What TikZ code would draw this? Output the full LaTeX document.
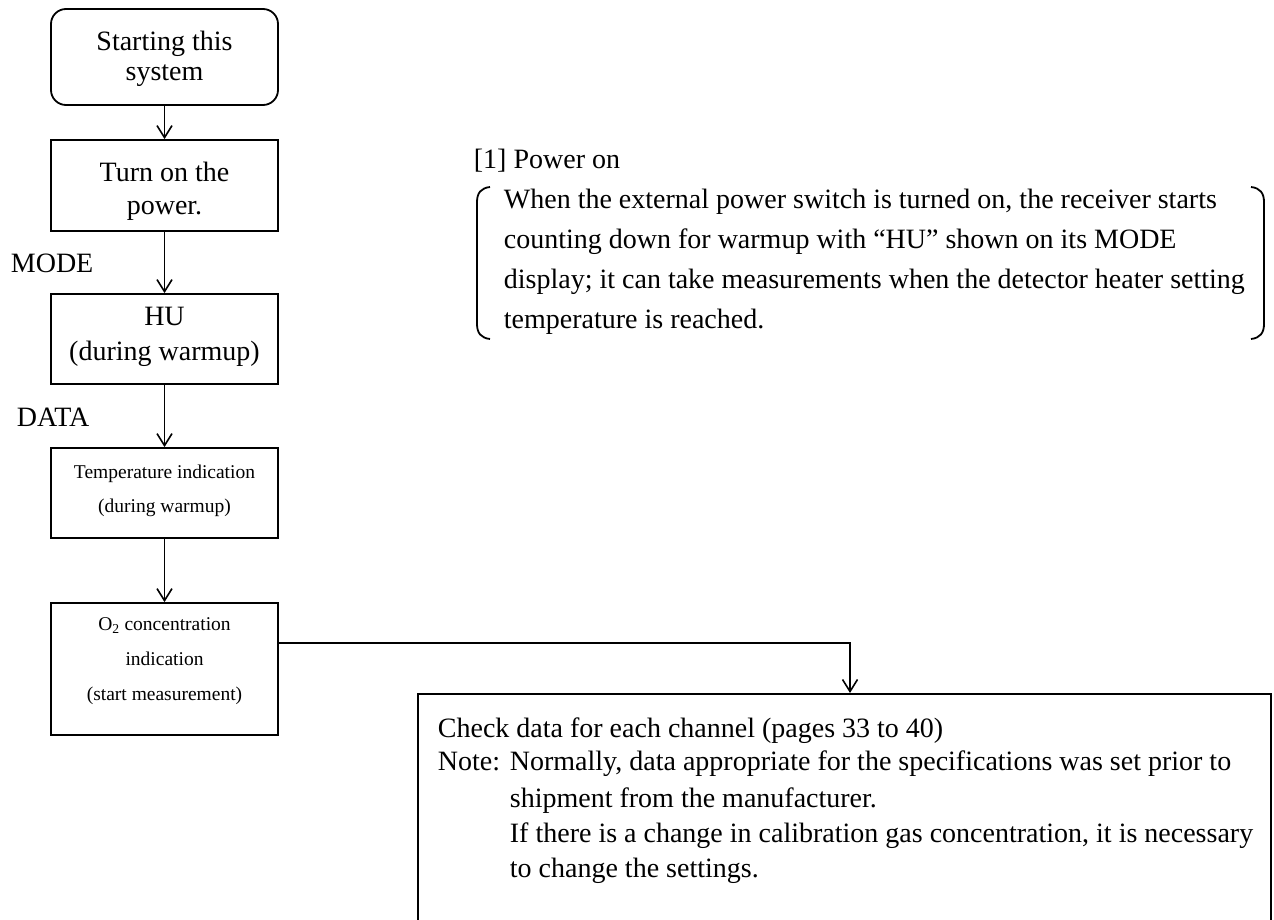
\documentclass[tikz,border=0pt]{standalone}
\usepackage{fontspec}
\setmainfont{Liberation Serif}
\usetikzlibrary{arrows.meta,calc}

\begin{document}
\begin{tikzpicture}[x=1pt,y=-1pt,
  line width=1.8pt,
  flowbox/.style={draw, line width=1.8pt, minimum width=227pt, inner sep=0pt},
  bigtext/.style={align=center, inner sep=0pt, font=\fontsize{28}{#1}\selectfont},
  smalltext/.style={align=center, inner sep=0pt, font=\fontsize{19.5}{#1}\selectfont},
  plain/.style={inner sep=0pt, font=\fontsize{28}{34}\selectfont},
  arr/.style={line width=1.8pt, -{Straight Barb[length=12pt,width=15pt,line width=1.6pt]}},
  brace/.style={line width=1.8pt}
]
\useasboundingbox (0,0) rectangle (1274,920);
\clip (0,0) rectangle (1274,920);

% flow of steps on the left
\node[flowbox, rounded corners=15pt, minimum height=96pt] (start) at (164.5,57) {};
\node[bigtext=30] (starttext) at (164.5,58.5) {Starting this\\system};

\node[flowbox, minimum height=91pt] (power) at (164.5,185.5) {};
\node[bigtext=33] (powertext) at (164.5,191) {Turn on the\\power.};

\node[flowbox, minimum height=90pt] (hu) at (164.5,339) {};
\node[bigtext=35] (hutext) at (164.5,337) {HU\\(during warmup)};

\node[flowbox, minimum height=90pt] (temp) at (164.5,493) {};
\node[smalltext=34] (temptext) at (164.5,491) {Temperature indication\\(during warmup)};

\node[flowbox, minimum height=132pt] (otwo) at (164.5,669) {};
\node[smalltext=35] (otwotext) at (164.5,661)
  {O\textsubscript{2} concentration\\indication\\(start measurement)};

% key labels beside the arrows
\node[plain, anchor=west] (mode) at (10,263) {MODE};
\node[plain, anchor=west] (data) at (16,417) {DATA};

\draw[arr] (start) -- (power);
\draw[arr] (power) -- (hu);
\draw[arr] (hu) -- (temp);
\draw[arr] (temp) -- (otwo);

% description of step [1]
\node[plain, anchor=base west] (title) at (473,169) {[1] Power on};
\node[plain, anchor=base west] (p1) at (503,208.5)
  {When the external power switch is turned on, the receiver starts};
\node[plain, anchor=base west] (p2) at (503,248.5)
  {counting down for warmup with “HU” shown on its MODE};
\node[plain, anchor=base west] (p3) at (503,288.5)
  {display; it can take measurements when the detector heater setting};
\node[plain, anchor=base west] (p4) at (503,328.5)
  {temperature is reached.};

\draw[brace] (490,187) .. controls (481,188) and (477,193) .. (477,202)
  -- (477,324) .. controls (477,333) and (481,338) .. (490,339);
\draw[brace] (1251,187) .. controls (1260,188) and (1264,193) .. (1264,202)
  -- (1264,324) .. controls (1264,333) and (1260,338) .. (1251,339);

% data check box, running off the lower edge
\node[draw, line width=1.8pt, anchor=north west, minimum width=853pt,
  minimum height=260pt, inner sep=0pt] (check) at (417,693) {};
\node[plain, anchor=base west] (c1) at (437,737)
  {Check data for each channel (pages 33 to 40)};
\node[plain, anchor=base west] (c2) at (437,770) {Note:};
\node[plain, anchor=base west] (c3) at (509,770)
  {Normally, data appropriate for the specifications was set prior to};
\node[plain, anchor=base west] (c4) at (509,807)
  {shipment from the manufacturer.};
\node[plain, anchor=base west] (c5) at (509,842)
  {If there is a change in calibration gas concentration, it is necessary};
\node[plain, anchor=base west] (c6) at (509,877)
  {to change the settings.};

\draw[arr] ($(otwo.north east)+(0,41)$) -| ($(check.north west)+(433,0)$);
\end{tikzpicture}
\end{document}
